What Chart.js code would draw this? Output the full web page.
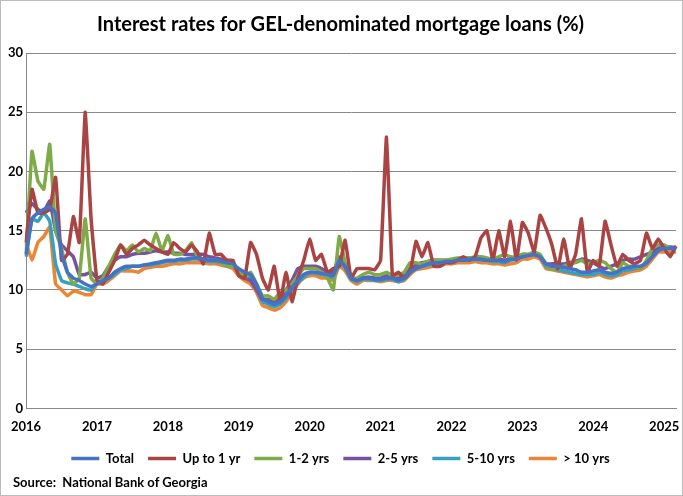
<!DOCTYPE html>
<html><head><meta charset="utf-8">
<script src="https://cdn.jsdelivr.net/npm/chart.js@4"></script>
<style>
html,body{margin:0;padding:0;background:#fff;}
#wrap{position:relative;width:681px;height:494px;border:1px solid #bbb;}
#src{position:absolute;left:12px;top:473px;font:bold 13px Lato,"Liberation Sans",sans-serif;color:#000;}
</style></head><body>
<div id="wrap"><canvas id="c" width="681" height="494"></canvas><div id="src">Source:&nbsp; National Bank of Georgia</div></div>
<script>
const years=[2016,2017,2018,2019,2020,2021,2022,2023,2024,2025];
const categories=[];
years.forEach(y=>{for(let m=1;m<=12;m++){if(y===2025&&m>3)break;categories.push(y+'-'+String(m).padStart(2,'0'));}});
const total=[13,16,16.5,16.8,17,16.5,13,11.5,11,10.8,10.5,10.3,
10.5,10.8,11,11.5,11.8,12,12,12,12.1,12.2,12.3,12.4,
12.5,12.5,12.6,12.6,12.7,12.7,12.6,12.5,12.5,12.4,12.3,12.2,
11.8,11.5,11.3,10.5,9.3,9.0,8.8,9.0,9.5,10.2,10.8,11.3,
11.5,11.5,11.4,11.3,11.2,12.5,12,11,10.8,11,11,10.9,
10.9,11,11,10.8,11,11.5,11.8,12,12.2,12.3,12.3,12.4,
12.4,12.5,12.5,12.6,12.6,12.6,12.5,12.5,12.5,12.4,12.6,12.6,
12.8,12.9,13.0,12.8,12.2,12.0,12.0,11.9,11.8,11.7,11.5,11.5,
11.6,11.7,11.5,11.4,11.5,11.8,11.9,12,12,12.3,12.8,13.3,
13.5,13.5,13.5];
const upTo1=[14,18.5,16.5,16.5,16.8,19.5,12.5,13,16.2,14,25,16,
10.8,10.5,11.5,12.5,13.8,13,13.5,13.8,14.2,13.8,13.5,13.2,
13,14,13.5,13.2,13.8,13.2,12.2,14.8,13,13,12.5,12.5,
11.2,11,14,13,11,10,12,9,11.5,9,11,12.5,
14.3,12.5,13,11.5,11.8,12,14.2,11,11.8,11.8,11.8,11.7,
12.5,22.9,11.2,11.5,11,11.5,14.1,12.8,14,12,12,12.3,
12.3,12.5,12.8,12.5,12.8,14.4,15,12.5,15,12.8,15.8,12.5,
15.7,14.8,13.2,16.3,15.2,13.8,11.8,14.3,11.8,13,16,11.5,
12.5,12,15.8,13.8,12,13,12.5,12.2,12.5,14.8,13.5,14.3,
13.5,12.8,13.7];
const y1to2=[13,21.7,19.2,18.5,22.3,15,13.5,11.5,10.5,11,16,11,
10.5,11,12,13,13.8,13.3,13.8,13.2,13.5,13.3,14.8,13.3,
14.6,13,13,13.3,14,12.8,12.6,12.5,12.5,12.3,12,12,
11.7,11,11.5,10.5,9.5,9.5,9.2,9.8,10,10.5,11.2,11.8,
11.8,11.8,11.5,11,10,14.5,12.3,11,11,11.3,11.5,11.3,
11.3,11.5,11.2,11.3,11.5,12.3,12.3,12.2,12.4,12.5,12.5,12.5,
12.6,12.7,12.7,12.7,12.8,12.8,12.7,12.6,12.8,13,12.8,12.8,
13,13,13.2,13,12.2,11.8,11.8,12,12.2,12.3,12.5,12.2,
12.3,12.5,12.3,11.8,11.5,12.3,12,12,11.8,12.5,13.5,13.8,
13.8,13.5,13.5];
const y2to5=[16.5,17.3,16.8,16.6,17.5,15,13.8,13.3,12.8,11.3,11.3,11.5,
11,11.2,12,12.5,12.8,12.8,13,13.1,13.1,13.2,13.3,13.2,
13.2,13.1,13.1,13,13,13,13,12.8,12.7,12.6,12.5,12.2,
11.5,11,10.8,10,9.2,9.2,9.0,9.3,10,10.8,11.8,12,
12,12,11.8,11.5,11.5,12.8,12,11,10.8,11,11.1,11.0,
11,11.2,11.1,11,11.2,11.8,12.1,12.3,12.4,12.5,12.5,12.5,
12.5,12.6,12.6,12.7,12.7,12.7,12.6,12.6,12.6,12.5,12.7,12.7,
13,13,13,12.8,12.2,12.2,12.2,12.2,12.3,12.4,12.6,12.5,
12.3,12,11.8,12,12.2,12.5,12.6,12.6,12.8,13,13.2,13.5,
13.6,13.6,13.6];
const y5to10=[12.8,16,15.8,16.5,15.8,12.2,10.8,10.6,10.5,10.3,10.1,10.0,
10.6,10.7,11,11.3,11.7,11.8,12,12,12.1,12.1,12.2,12.3,
12.4,12.4,12.5,12.5,12.6,12.6,12.5,12.4,12.4,12.3,12.2,12.0,
11.6,11.3,11.0,10.2,9.0,8.8,8.6,8.8,9.3,10.0,10.6,11.1,
11.4,11.4,11.3,11.2,11.0,12.3,11.9,10.9,10.7,10.9,10.9,10.8,
10.8,10.9,10.9,10.7,10.9,11.5,11.8,12.0,12.1,12.2,12.2,12.4,
12.4,12.5,12.5,12.5,12.6,12.5,12.5,12.4,12.4,12.3,12.5,12.6,
12.9,12.9,13.0,12.8,12.0,11.8,11.7,11.6,11.5,11.4,11.3,11.3,
11.3,11.5,11.3,11.2,11.3,11.6,11.7,11.8,11.9,12.2,12.9,13.5,
13.6,13.6,13.5];
const over10=[14,12.5,14,14.5,15.3,10.5,10,9.5,9.9,9.8,9.6,9.6,
10.5,10.5,10.8,11.2,11.6,11.6,11.6,11.5,11.8,11.9,12,12,
12.1,12.2,12.2,12.3,12.3,12.3,12.3,12.2,12.2,12.1,12,11.8,
11.2,10.8,10.5,9.8,8.7,8.5,8.3,8.5,9.0,9.8,10.5,11,
11.2,11.2,11,11,10.8,12,11.6,10.8,10.5,10.8,10.8,10.8,
10.7,10.8,10.8,10.7,10.8,11.3,11.7,11.8,11.9,12,12,12.2,
12.2,12.3,12.3,12.3,12.4,12.3,12.3,12.2,12.2,12.1,12.2,12.3,
12.6,12.6,12.8,12.6,11.8,11.7,11.6,11.5,11.4,11.3,11.2,11.1,
11.2,11.3,11.1,11,11.2,11.3,11.5,11.6,11.7,12,12.6,13.2,
13.2,13.2,13.2];
const seriesNames=['Total','Up to 1 yr','1-2 yrs','2-5 yrs','5-10 yrs','> 10 yrs'];
const colors=['#4472C4','#A94442','#7EAB47','#7553A0','#35A0BF','#EE8432'];
const data=[total,upTo1,y1to2,y2to5,y5to10,over10];
const F='Lato, "Liberation Sans", sans-serif';
new Chart(document.getElementById('c'),{type:'line',
data:{labels:categories,datasets:data.map((d,i)=>({label:seriesNames[i],data:d,borderColor:colors[i],backgroundColor:colors[i],borderWidth:3.5,pointRadius:0,tension:0.1}))},
options:{responsive:false,animation:false,
layout:{padding:{left:4,right:6,top:4,bottom:20}},
plugins:{title:{display:true,text:'Interest rates for GEL-denominated mortgage loans (%)',font:{family:F,size:20,weight:'bold'},color:'#000',padding:{top:8,bottom:16}},
legend:{position:'bottom',labels:{usePointStyle:true,pointStyle:'line',pointStyleWidth:28,font:{family:F,size:13,weight:'bold'},color:'#000',boxHeight:3,padding:14}}},
scales:{x:{offset:false,grid:{display:false},border:{color:'#888'},ticks:{autoSkip:false,maxRotation:0,font:{family:F,size:13,weight:'bold'},color:'#000',callback:(v,i)=>categories[i].endsWith('-01')?categories[i].slice(0,4):''}},
y:{min:0,max:30,ticks:{stepSize:5,font:{family:F,size:13,weight:'bold'},color:'#000'},grid:{color:'#888',drawTicks:false},border:{color:'#888'}}}}});
</script></body></html>
